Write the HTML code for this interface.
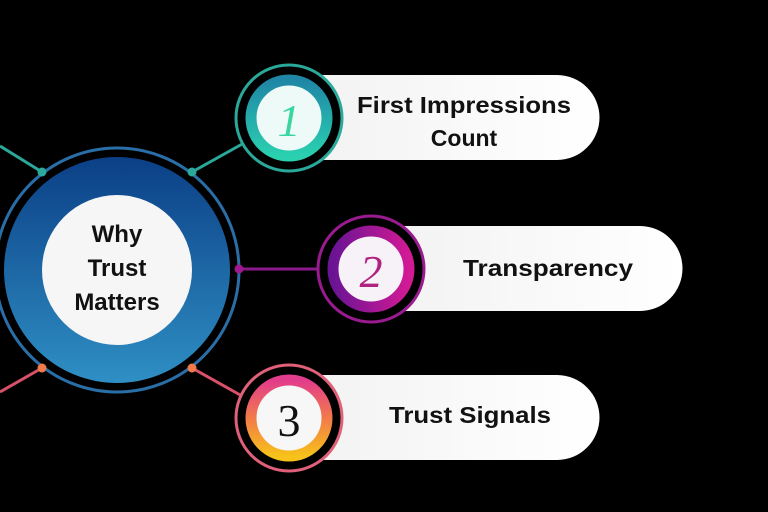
<!DOCTYPE html>
<html><head><style>html,body{margin:0;padding:0;background:#000;}svg{display:block}</style></head>
<body>
<svg width="768" height="512" viewBox="0 0 768 512" xmlns="http://www.w3.org/2000/svg" font-family="Liberation Sans, sans-serif" font-weight="bold">
<defs>
<linearGradient id="blue" x1="0" y1="0" x2="0" y2="1"><stop offset="0" stop-color="#0b3f86"/><stop offset="1" stop-color="#2f8fc4"/></linearGradient>
<linearGradient id="teal" x1="0" y1="0" x2="0" y2="1"><stop offset="0" stop-color="#1f86a6"/><stop offset="1" stop-color="#2ad0b0"/></linearGradient>
<linearGradient id="purp" x1="0" y1="0" x2="1" y2="0"><stop offset="0" stop-color="#6a1493"/><stop offset="1" stop-color="#d21a95"/></linearGradient>
<linearGradient id="warm" x1="0" y1="0" x2="0" y2="1"><stop offset="0" stop-color="#e23c8c"/><stop offset="0.5" stop-color="#f27a4a"/><stop offset="1" stop-color="#f7c21a"/></linearGradient>
<linearGradient id="pill" x1="0" y1="0" x2="1" y2="0"><stop offset="0" stop-color="#f2f2f2"/><stop offset="1" stop-color="#ffffff"/></linearGradient>
</defs>
<rect width="768" height="512" fill="#000"/>
<line x1="0" y1="146" x2="42" y2="172" stroke="#2aa99a" stroke-width="3"/>
<line x1="192" y1="172" x2="244" y2="143" stroke="#2aa99a" stroke-width="3"/>
<line x1="239" y1="269" x2="318" y2="269" stroke="#8a1a8a" stroke-width="3"/>
<line x1="0" y1="392" x2="42" y2="368" stroke="#d8506a" stroke-width="3"/>
<line x1="192" y1="368" x2="242" y2="396" stroke="#d8506a" stroke-width="3"/>
<circle cx="117" cy="270" r="122" fill="none" stroke="#2a6ea8" stroke-width="3"/>
<circle cx="117" cy="270" r="113" fill="url(#blue)"/>
<circle cx="117" cy="270" r="75" fill="#f6f6f6"/>
<text x="117" y="242" font-size="24" text-anchor="middle" fill="#111">Why</text>
<text x="117" y="276" font-size="24" text-anchor="middle" fill="#111">Trust</text>
<text x="117" y="310" font-size="24" text-anchor="middle" fill="#111">Matters</text>
<circle cx="42" cy="172" r="4.5" fill="#2aa99a"/>
<circle cx="192" cy="172" r="4.5" fill="#2aa99a"/>
<circle cx="239" cy="269" r="4.5" fill="#a0188e"/>
<circle cx="42" cy="368" r="4.5" fill="#f07a4a"/>
<circle cx="192" cy="368" r="4.5" fill="#f07a4a"/>
<path d="M300 75 H557 A42.5 42.5 0 0 1 557 160 H300 Z" fill="url(#pill)"/>
<circle cx="289" cy="118" r="53" fill="#000" stroke="#2aa99a" stroke-width="3"/>
<circle cx="289" cy="118" r="38" fill="#eefaf7" stroke="url(#teal)" stroke-width="11"/>
<text x="289" y="136" font-size="46" font-style="italic" font-weight="normal" text-anchor="middle" fill="#3ad6a0" font-family="Liberation Serif, serif">1</text>
<text x="464" y="113" font-size="23" text-anchor="middle" fill="#111" textLength="214" lengthAdjust="spacingAndGlyphs">First Impressions</text>
<text x="464" y="146" font-size="23" text-anchor="middle" fill="#111">Count</text>
<path d="M385 226 H640 A42.5 42.5 0 0 1 640 311 H385 Z" fill="url(#pill)"/>
<circle cx="371" cy="269" r="53" fill="#000" stroke="#9a1a90" stroke-width="3"/>
<circle cx="371" cy="269" r="38" fill="#f7f2f7" stroke="url(#purp)" stroke-width="11"/>
<text x="371" y="287" font-size="46" font-style="italic" font-weight="normal" text-anchor="middle" fill="#b0227f" font-family="Liberation Serif, serif">2</text>
<text x="548" y="276" font-size="23" text-anchor="middle" fill="#111" textLength="170" lengthAdjust="spacingAndGlyphs">Transparency</text>
<path d="M300 375 H557 A42.5 42.5 0 0 1 557 460 H300 Z" fill="url(#pill)"/>
<circle cx="289" cy="418" r="53" fill="#000" stroke="#e0607a" stroke-width="3"/>
<circle cx="289" cy="418" r="38" fill="#f7f7f7" stroke="url(#warm)" stroke-width="11"/>
<text x="289" y="436" font-size="46" font-weight="normal" text-anchor="middle" fill="#111" font-family="Liberation Serif, serif">3</text>
<text x="470" y="423" font-size="23" text-anchor="middle" fill="#111" textLength="162" lengthAdjust="spacingAndGlyphs">Trust Signals</text>
</svg>
</body></html>
